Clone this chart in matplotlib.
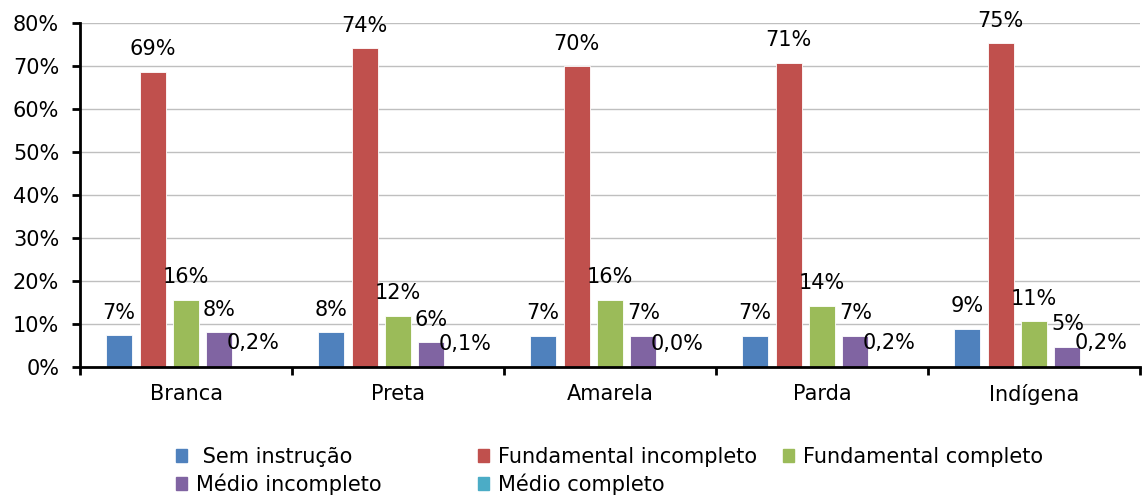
import matplotlib.pyplot as plt
import matplotlib.patches as mpatches
import numpy as np

plt.rcParams['font.family'] = ['DejaVu Sans']

groups = ["Branca", "Preta", "Amarela", "Parda", "Indígena"]
series = ["Sem instrução", "Fundamental incompleto", "Fundamental completo",
          "Médio incompleto", "Médio completo"]

sem_instrucao = [7.4, 8.1, 7.2, 7.3, 8.9]
fund_incompleto = [68.7, 74.1, 69.9, 70.7, 75.3]
fund_completo = [15.6, 11.9, 15.6, 14.2, 10.6]
medio_incompleto = [8.1, 5.7, 7.2, 7.2, 4.7]
medio_completo = [0.2, 0.1, 0.04, 0.2, 0.2]

values = [sem_instrucao, fund_incompleto, fund_completo, medio_incompleto, medio_completo]
decimals = [0, 0, 0, 0, 1]
colors = ["#4F81BD", "#C0504D", "#9BBB59", "#8064A2", "#4BACC6"]

fs = 15

fig = plt.figure(figsize=(11.48, 4.96), dpi=100)
ax = fig.add_axes([80/1148, 129/496, 1060/1148, 344/496])

x = np.arange(len(groups))
step = 0.1575
width = 0.123
for i, (vals, col) in enumerate(zip(values, colors)):
    pos = x + (i - 2) * step
    ax.bar(pos, vals, width, color=col, edgecolor="white", linewidth=0.6, zorder=3)
    for px, v in zip(pos, vals):
        txt = f"{v:.{decimals[i]}f}%".replace(".", ",")
        ax.annotate(txt, (px, v), xytext=(0, 12), textcoords="offset points",
                    ha="center", va="baseline", fontsize=fs, zorder=4)

ax.set_xlim(-0.5, 4.5)
ax.set_ylim(0, 80)
ax.set_yticks(range(0, 81, 10))
ax.set_yticklabels([f"{v}%" for v in range(0, 81, 10)])
ax.set_xticks(x)
ax.set_xticklabels(groups)
ax.set_xticks(np.arange(-0.5, 5, 1), minor=True)
ax.tick_params(axis="x", which="major", length=0, pad=12, labelsize=fs)
ax.tick_params(axis="x", which="minor", length=6, width=2, direction="out")
ax.tick_params(axis="y", length=6, width=2, pad=9, labelsize=fs)
ax.grid(axis="y", color="#BFBFBF", linewidth=1, zorder=0)
for s in ["top", "right"]:
    ax.spines[s].set_visible(False)
for s in ["left", "bottom"]:
    ax.spines[s].set_linewidth(2)
    ax.spines[s].set_zorder(5)

# legend laid out in rows like the original, three columns
handles = [mpatches.Patch(color=c) for c in colors]
labels = [" " + series[0]] + series[1:]
cols = [(176, [0, 3]), (478, [1, 4]), (783, [2])]
for xpix, idx in cols:
    fig.legend([handles[k] for k in idx], [labels[k] for k in idx],
               loc="upper left", bbox_to_anchor=(xpix/1148, 1 - 447/496),
               frameon=False, fontsize=fs, borderpad=0, borderaxespad=0,
               handlelength=0.55, handleheight=0.55, handletextpad=0.4,
               labelspacing=0.3)

fig.savefig("out.png", dpi=100)
